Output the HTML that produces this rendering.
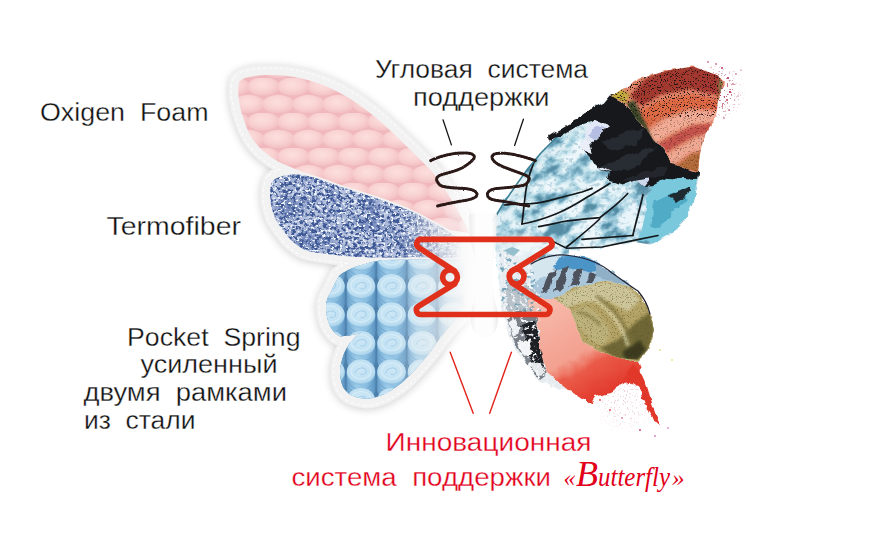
<!DOCTYPE html>
<html lang="ru">
<head>
<meta charset="utf-8">
<title>Butterfly</title>
<style>
html,body{margin:0;padding:0;background:#fff;}
body{width:880px;height:550px;overflow:hidden;font-family:"Liberation Sans",sans-serif;}
svg{display:block;}
text{font-family:"Liberation Sans",sans-serif;}
.t{font-size:25.5px;fill:#111;stroke:#fff;stroke-width:.3px;}
.r{font-size:25.5px;fill:#e2001a;stroke:#fff;stroke-width:.3px;}
.s{font-family:"Liberation Serif",serif;font-style:italic;font-size:31px;fill:#e2001a;}
</style>
</head>
<body>
<svg width="880" height="550" viewBox="0 0 880 550">
<defs>


<filter id="sh" color-interpolation-filters="sRGB" x="-10%" y="-10%" width="120%" height="120%">
  <feGaussianBlur in="SourceAlpha" stdDeviation="4" result="b"/>
  <feOffset in="b" dx="0" dy="1" result="o"/>
  <feComponentTransfer in="o" result="o2"><feFuncA type="linear" slope="0.2"/></feComponentTransfer>
  <feMerge><feMergeNode in="o2"/><feMergeNode in="SourceGraphic"/></feMerge>
</filter>
<radialGradient id="bump" cx="0.45" cy="0.38" r="0.64">
  <stop offset="0" stop-color="#fcdfde"/>
  <stop offset="0.5" stop-color="#f9d3d3"/>
  <stop offset="0.85" stop-color="#f4c4c7"/>
  <stop offset="1" stop-color="#f0b8bc"/>
</radialGradient>
<pattern id="foam" width="30" height="35" patternUnits="userSpaceOnUse" patternTransform="translate(248.5,78)">
  <rect width="30" height="35" fill="#f0b8bc"/>
  <ellipse cx="15" cy="8.7" rx="16" ry="9.4" fill="url(#bump)"/>
  <ellipse cx="0" cy="26.2" rx="16" ry="9.4" fill="url(#bump)"/>
  <ellipse cx="30" cy="26.2" rx="16" ry="9.4" fill="url(#bump)"/>
</pattern>
<filter id="fib" color-interpolation-filters="sRGB" x="0" y="0" width="100%" height="100%">
  <feTurbulence type="fractalNoise" baseFrequency="0.26 0.3" numOctaves="3" seed="7" result="n"/>
  <feColorMatrix in="n" type="matrix" values="0 0 0 0 0.24  0 0 0 0 0.34  0 0 0 0 0.58  0 6 0 0 -2.68" result="c"/>
  <feComposite in="c" in2="SourceGraphic" operator="in"/>
</filter>
<filter id="fibw" color-interpolation-filters="sRGB" x="0" y="0" width="100%" height="100%">
  <feTurbulence type="fractalNoise" baseFrequency="0.35 0.4" numOctaves="2" seed="23" result="n"/>
  <feColorMatrix in="n" type="matrix" values="0 0 0 0 0.95  0 0 0 0 0.97  0 0 0 0 1  0 -7 0 0 3.05" result="c"/>
  <feComposite in="c" in2="SourceGraphic" operator="in"/>
</filter>
<filter id="fib2" color-interpolation-filters="sRGB" x="0" y="0" width="100%" height="100%">
  <feTurbulence type="fractalNoise" baseFrequency="0.05 0.06" numOctaves="2" seed="3" result="n"/>
  <feColorMatrix in="n" type="matrix" values="0 0 0 0 0.25  0 0 0 0 0.36  0 0 0 0 0.64  0 3 0 0 -1.2" result="c"/>
  <feComposite in="c" in2="SourceGraphic" operator="in"/>
</filter>
<linearGradient id="cyl" x1="0" y1="0" x2="1" y2="0">
  <stop offset="0" stop-color="#6fa6d0"/>
  <stop offset="0.35" stop-color="#9ccbe8"/>
  <stop offset="0.7" stop-color="#88bde0"/>
  <stop offset="1" stop-color="#5f97c4"/>
</linearGradient>
<radialGradient id="cap" cx="0.45" cy="0.4" r="0.65">
  <stop offset="0" stop-color="#cde7f6"/>
  <stop offset="0.7" stop-color="#bfe0f2"/>
  <stop offset="1" stop-color="#a9d2ea"/>
</radialGradient>
<pattern id="spr" width="29" height="29" patternUnits="userSpaceOnUse" patternTransform="translate(346.5,266.5)">
  <rect width="29" height="29" fill="#5f9bcb"/>
  <rect x="1" y="-8" width="27" height="16" fill="url(#cyl)"/>
  <rect x="1" y="14" width="27" height="16" fill="url(#cyl)"/>
  <path d="M1,18h27M1,21.5h27M1,25h27M1,-4h27M1,-0.5h27M1,3h27" stroke="#6aa5d3" stroke-width="1" opacity=".7"/>
  <ellipse cx="14.5" cy="14.5" rx="13.6" ry="11.2" fill="#8fc2e6"/>
  <ellipse cx="14.5" cy="13.6" rx="13.4" ry="10.6" fill="url(#cap)"/>
  <ellipse cx="14.5" cy="13.6" rx="9.2" ry="7" fill="none" stroke="#d9effb" stroke-width="1.6" opacity=".9"/>
  <path d="M9,15 C10,10 17,9 19,12 C20,15 16,17 14,15.5" fill="none" stroke="#a5d0ee" stroke-width="1.2"/>
</pattern>
<linearGradient id="fadeR" x1="0" y1="0" x2="1" y2="0">
  <stop offset="0" stop-color="#fff" stop-opacity="0"/>
  <stop offset="0.55" stop-color="#fff" stop-opacity="0.55"/>
  <stop offset="1" stop-color="#fff" stop-opacity="1"/>
</linearGradient>
<path id="pPink" d="M239,82 C243,77 253,75 271,75 C290,75 310,79 330,88 C356,100 378,118 397,137 C412,151 424,163 434,174 C445,188 455,205 464,222 L470,233 L450,230 C436,222 422,214.5 408,208 C392,201 376,196 360,191 C346,187 334,182.5 322,178 C308,173.5 296,170 286,165 C276,161 267,155 260,148 C253,141 248,133 244,120 C239,107 237,92 239,82 Z"/>
<path id="pFib" d="M272.5,181 C276,177.5 284,175 294,174.5 C302,174.5 310,176.5 318.6,179 C332,184 346,188.5 360,193 C376,198 392,203.5 408,210 C420,215 434,223 452,234 L470,246 L470,258 L413,257 C395,258 370,257.5 357,257 C348,256.5 340,255.8 332,254.6 C320,253 310,252 304,249.5 C296,245 290,240 286,234 C281,228 277,222 275,218 C272,210 270,202 270,196 C270,190 270.5,185 272.5,181 Z"/>
<path id="pSpr" d="M385,260 L478,259 L478,300 C468,308 459,316 450.600,325 C444,333 437,342 431,351 C423,361 416,369 408,377 C400,385 392,390 385,393.700 C378,397 372,399 365.500,398.600 C358,398 353,396.500 349,393.700 C344,390 342,386 341,380.600 C340,375 340,369 341,364 C342.500,357 345,350 349,344.600 C353,339 358,334 364,330 C360,333 356,334.500 352,335 C347,336 342.500,336.500 339,336 C334,333 331.500,329 329.500,325 C327,319 326,312 326,305 C326.500,300 328,296 331,292 C333,287 336,281 339,276 C346,270 355,266.500 365.500,264 C372,262 378,260.500 385,260 Z"/>

<linearGradient id="gFadeP" gradientUnits="userSpaceOnUse" x1="438" y1="0" x2="478" y2="0">
  <stop offset="0" stop-color="#fff"/><stop offset="0.5" stop-color="#888"/><stop offset="1" stop-color="#000"/>
</linearGradient>
<linearGradient id="gFadeF" gradientUnits="userSpaceOnUse" x1="400" y1="0" x2="462" y2="0">
  <stop offset="0" stop-color="#fff"/><stop offset="0.5" stop-color="#777"/><stop offset="1" stop-color="#000"/>
</linearGradient>
<linearGradient id="gFadeS" gradientUnits="userSpaceOnUse" x1="392" y1="0" x2="466" y2="0">
  <stop offset="0" stop-color="#fff"/><stop offset="0.45" stop-color="#888"/><stop offset="1" stop-color="#000"/>
</linearGradient>
<mask id="mFadeP" maskUnits="userSpaceOnUse" x="200" y="40" width="320" height="400"><rect x="200" y="40" width="320" height="400" fill="url(#gFadeP)"/></mask>
<mask id="mFadeF" maskUnits="userSpaceOnUse" x="200" y="40" width="320" height="400"><rect x="200" y="40" width="320" height="400" fill="url(#gFadeF)"/></mask>
<mask id="mFadeS" maskUnits="userSpaceOnUse" x="200" y="40" width="320" height="400"><rect x="200" y="40" width="320" height="400" fill="url(#gFadeS)"/></mask>
<clipPath id="cSpr"><use href="#pSpr"/></clipPath>

<filter id="rough" color-interpolation-filters="sRGB" x="-5%" y="-5%" width="110%" height="110%">
  <feTurbulence type="fractalNoise" baseFrequency="0.09" numOctaves="3" seed="11" result="n"/>
  <feDisplacementMap in="SourceGraphic" in2="n" scale="7" xChannelSelector="R" yChannelSelector="G"/>
</filter>
<filter id="wc" color-interpolation-filters="sRGB" x="-5%" y="-5%" width="110%" height="110%">
  <feTurbulence type="fractalNoise" baseFrequency="0.09" numOctaves="3" seed="11" result="n"/>
  <feDisplacementMap in="SourceGraphic" in2="n" scale="7" xChannelSelector="R" yChannelSelector="G" result="d"/>
  <feTurbulence type="fractalNoise" baseFrequency="0.16 0.2" numOctaves="4" seed="5" result="t"/>
  <feColorMatrix in="t" type="matrix" values="1.5 0 0 0 0.12  1.5 0 0 0 0.12  1.5 0 0 0 0.12  0 0 0 0 1" result="g"/>
  <feComposite in="d" in2="g" operator="arithmetic" k1="1.15" k2="0.15" k3="0" k4="0" result="m"/>
  <feComposite in="m" in2="d" operator="in"/>
</filter>
<filter id="coil" color-interpolation-filters="sRGB" x="-10%" y="-10%" width="120%" height="120%">
  <feTurbulence type="fractalNoise" baseFrequency="0.6" numOctaves="2" seed="2" result="n"/>
  <feDisplacementMap in="SourceGraphic" in2="n" scale="1.6" xChannelSelector="R" yChannelSelector="G"/>
</filter>
<linearGradient id="gBody" gradientUnits="userSpaceOnUse" x1="468" y1="0" x2="500" y2="0">
  <stop offset="0" stop-color="#e9e9ea"/>
  <stop offset="0.25" stop-color="#fdfdfd"/>
  <stop offset="0.75" stop-color="#fdfdfd"/>
  <stop offset="1" stop-color="#e4e4e6"/>
</linearGradient>

<clipPath id="cIce"><use href="#ice"/></clipPath>
<clipPath id="cRed"><use href="#redtip"/></clipPath>
<clipPath id="cLeaf"><use href="#leaf"/></clipPath>
<filter id="soft" color-interpolation-filters="sRGB" x="-10%" y="-10%" width="120%" height="120%"><feGaussianBlur stdDeviation="3"/></filter>
<filter id="iceW" color-interpolation-filters="sRGB" x="0" y="0" width="100%" height="100%">
  <feTurbulence type="fractalNoise" baseFrequency="0.07 0.09" numOctaves="4" seed="4" result="n"/>
  <feColorMatrix in="n" type="matrix" values="0 0 0 0 0.96  0 0 0 0 0.98  0 0 0 0 1  5 0 0 0 -2.4" result="c"/>
  <feComposite in="c" in2="SourceGraphic" operator="in"/>
</filter>
<filter id="iceD" color-interpolation-filters="sRGB" x="0" y="0" width="100%" height="100%">
  <feTurbulence type="fractalNoise" baseFrequency="0.2 0.24" numOctaves="3" seed="9" result="n"/>
  <feColorMatrix in="n" type="matrix" values="0 0 0 0 0.36  0 0 0 0 0.58  0 0 0 0 0.68  0 6 0 0 -3.3" result="c"/>
  <feComposite in="c" in2="SourceGraphic" operator="in"/>
</filter>
<filter id="speck" color-interpolation-filters="sRGB" x="0" y="0" width="100%" height="100%">
  <feTurbulence type="fractalNoise" baseFrequency="0.7" numOctaves="2" seed="14" result="n"/>
  <feColorMatrix in="n" type="matrix" values="0 0 0 0 0.15  0 0 0 0 0.08  0 0 0 0 0.07  0 0 9 0 -5.2" result="c"/>
  <feComposite in="c" in2="SourceGraphic" operator="in"/>
</filter>
<filter id="speck2" color-interpolation-filters="sRGB" x="0" y="0" width="100%" height="100%">
  <feTurbulence type="fractalNoise" baseFrequency="0.8" numOctaves="2" seed="31" result="n"/>
  <feColorMatrix in="n" type="matrix" values="0 0 0 0 0.35  0 0 0 0 0.30  0 0 0 0 0.12  0 0 8 0 -4.7" result="c"/>
  <feComposite in="c" in2="SourceGraphic" operator="in"/>
</filter>
<filter id="soft2" color-interpolation-filters="sRGB" x="-10%" y="-10%" width="120%" height="120%"><feGaussianBlur stdDeviation="1.8"/></filter>
<linearGradient id="gSalmon" gradientUnits="userSpaceOnUse" x1="548" y1="305" x2="600" y2="398">
  <stop offset="0" stop-color="#f7b8a9"/>
  <stop offset="0.55" stop-color="#f3a08f"/>
  <stop offset="0.7" stop-color="#ea5a48"/>
  <stop offset="1" stop-color="#e23a2c"/>
</linearGradient>
<linearGradient id="gBodyFade" gradientUnits="userSpaceOnUse" x1="440" y1="0" x2="480" y2="0">
  <stop offset="0" stop-color="#fff" stop-opacity="0"/><stop offset="1" stop-color="#fff" stop-opacity="1"/>
</linearGradient>
<clipPath id="cLow"><use href="#lowbase"/></clipPath>
<filter id="grW" color-interpolation-filters="sRGB" x="0" y="0" width="100%" height="100%">
  <feTurbulence type="fractalNoise" baseFrequency="0.25 0.3" numOctaves="3" seed="17" result="n"/>
  <feColorMatrix in="n" type="matrix" values="0 0 0 0 0.96  0 0 0 0 0.97  0 0 0 0 0.98  7 0 0 0 -3.9" result="c"/>
  <feComposite in="c" in2="SourceGraphic" operator="in"/>
</filter>
<filter id="iceC" color-interpolation-filters="sRGB" x="0" y="0" width="100%" height="100%">
  <feTurbulence type="fractalNoise" baseFrequency="0.045 0.07" numOctaves="5" seed="12" result="n"/>
  <feColorMatrix in="n" type="matrix" values="2.6 0 0 0 -0.7  2.6 0 0 0 -0.7  2.6 0 0 0 -0.7  0 0 0 0 1" result="g"/>
  <feComponentTransfer in="g" result="c">
    <feFuncR type="table" tableValues="0.27 0.40 0.60 0.72 0.86 0.95 0.97"/>
    <feFuncG type="table" tableValues="0.50 0.62 0.78 0.86 0.94 0.98 0.99"/>
    <feFuncB type="table" tableValues="0.60 0.71 0.85 0.91 0.96 0.99 1"/>
  </feComponentTransfer>
  <feComposite in="c" in2="SourceGraphic" operator="in"/>
</filter>
<filter id="pspeck" color-interpolation-filters="sRGB" x="0" y="0" width="100%" height="100%">
  <feTurbulence type="fractalNoise" baseFrequency="0.55" numOctaves="2" seed="41" result="n"/>
  <feColorMatrix in="n" type="matrix" values="0 0 0 0 0.68  0 0 0 0 0.16  0 0 0 0 0.30  0 0 14 0 -8.6" result="c"/>
  <feComposite in="c" in2="SourceGraphic" operator="in"/>
</filter>
<radialGradient id="gTip" gradientUnits="userSpaceOnUse" cx="716" cy="92" r="30">
  <stop offset="0" stop-color="#fff"/><stop offset="0.45" stop-color="#aaa"/><stop offset="1" stop-color="#000"/>
</radialGradient>
<mask id="mTip" maskUnits="userSpaceOnUse" x="680" y="50" width="80" height="100"><rect x="680" y="50" width="80" height="100" fill="url(#gTip)"/></mask>
<radialGradient id="gTail" gradientUnits="userSpaceOnUse" cx="625" cy="402" r="34">
  <stop offset="0" stop-color="#fff"/><stop offset="0.5" stop-color="#999"/><stop offset="1" stop-color="#000"/>
</radialGradient>
<mask id="mTail" maskUnits="userSpaceOnUse" x="560" y="360" width="130" height="90"><rect x="560" y="360" width="130" height="90" fill="url(#gTail)"/></mask>

</defs>
<rect width="880" height="550" fill="#fff"/>

<g filter="url(#sh)">
  <g fill="#f2f2f2" stroke="#f2f2f2" stroke-width="19.500" stroke-linejoin="round">
    <use href="#pPink"/><use href="#pFib"/><use href="#pSpr"/>
  </g>
</g>
<g fill="none" stroke="#ffffff" stroke-width="14.500" stroke-linejoin="round" stroke-dasharray="3 2.200">
  <use href="#pPink"/><use href="#pFib"/><use href="#pSpr"/>
</g>
<g fill="#f2f2f2" stroke="#f2f2f2" stroke-width="13" stroke-linejoin="round">
  <use href="#pPink"/><use href="#pFib"/><use href="#pSpr"/>
</g>
<rect x="440" y="150" width="60" height="260" fill="url(#gBodyFade)"/>
<g mask="url(#mFadeP)">
<use href="#pPink" fill="url(#foam)"/>
</g>
<g mask="url(#mFadeF)">
<use href="#pFib" fill="#b9c5e0"/>
<use href="#pFib" fill="#000" filter="url(#fib2)" opacity=".5"/>
<use href="#pFib" fill="#000" filter="url(#fib)"/>
<use href="#pFib" fill="#000" filter="url(#fibw)"/>
</g>
<g mask="url(#mFadeS)">
<g clip-path="url(#cSpr)">
<rect x="300" y="240" width="200" height="170" fill="#4d80ab"/>
<path d="M285.7,229 v17 a14.3,12 0 0 0 28.6,0 v-17z" fill="url(#cyl)"/>
<path d="M285.7,235 a14.3,12 0 0 0 28.6,0" fill="none" stroke="#5b93c2" stroke-width="1" opacity=".5"/>
<path d="M285.7,239 a14.3,12 0 0 0 28.6,0" fill="none" stroke="#5b93c2" stroke-width="1" opacity=".5"/>
<path d="M285.7,243 a14.3,12 0 0 0 28.6,0" fill="none" stroke="#5b93c2" stroke-width="1" opacity=".5"/>
<path d="M316.2,229 v17 a14.3,12 0 0 0 28.6,0 v-17z" fill="url(#cyl)"/>
<path d="M316.2,235 a14.3,12 0 0 0 28.6,0" fill="none" stroke="#5b93c2" stroke-width="1" opacity=".5"/>
<path d="M316.2,239 a14.3,12 0 0 0 28.6,0" fill="none" stroke="#5b93c2" stroke-width="1" opacity=".5"/>
<path d="M316.2,243 a14.3,12 0 0 0 28.6,0" fill="none" stroke="#5b93c2" stroke-width="1" opacity=".5"/>
<path d="M346.7,229 v17 a14.3,12 0 0 0 28.6,0 v-17z" fill="url(#cyl)"/>
<path d="M346.7,235 a14.3,12 0 0 0 28.6,0" fill="none" stroke="#5b93c2" stroke-width="1" opacity=".5"/>
<path d="M346.7,239 a14.3,12 0 0 0 28.6,0" fill="none" stroke="#5b93c2" stroke-width="1" opacity=".5"/>
<path d="M346.7,243 a14.3,12 0 0 0 28.6,0" fill="none" stroke="#5b93c2" stroke-width="1" opacity=".5"/>
<path d="M377.2,229 v17 a14.3,12 0 0 0 28.6,0 v-17z" fill="url(#cyl)"/>
<path d="M377.2,235 a14.3,12 0 0 0 28.6,0" fill="none" stroke="#5b93c2" stroke-width="1" opacity=".5"/>
<path d="M377.2,239 a14.3,12 0 0 0 28.6,0" fill="none" stroke="#5b93c2" stroke-width="1" opacity=".5"/>
<path d="M377.2,243 a14.3,12 0 0 0 28.6,0" fill="none" stroke="#5b93c2" stroke-width="1" opacity=".5"/>
<path d="M407.7,229 v17 a14.3,12 0 0 0 28.6,0 v-17z" fill="url(#cyl)"/>
<path d="M407.7,235 a14.3,12 0 0 0 28.6,0" fill="none" stroke="#5b93c2" stroke-width="1" opacity=".5"/>
<path d="M407.7,239 a14.3,12 0 0 0 28.6,0" fill="none" stroke="#5b93c2" stroke-width="1" opacity=".5"/>
<path d="M407.7,243 a14.3,12 0 0 0 28.6,0" fill="none" stroke="#5b93c2" stroke-width="1" opacity=".5"/>
<path d="M438.2,229 v17 a14.3,12 0 0 0 28.6,0 v-17z" fill="url(#cyl)"/>
<path d="M438.2,235 a14.3,12 0 0 0 28.6,0" fill="none" stroke="#5b93c2" stroke-width="1" opacity=".5"/>
<path d="M438.2,239 a14.3,12 0 0 0 28.6,0" fill="none" stroke="#5b93c2" stroke-width="1" opacity=".5"/>
<path d="M438.2,243 a14.3,12 0 0 0 28.6,0" fill="none" stroke="#5b93c2" stroke-width="1" opacity=".5"/>
<path d="M468.7,229 v17 a14.3,12 0 0 0 28.6,0 v-17z" fill="url(#cyl)"/>
<path d="M468.7,235 a14.3,12 0 0 0 28.6,0" fill="none" stroke="#5b93c2" stroke-width="1" opacity=".5"/>
<path d="M468.7,239 a14.3,12 0 0 0 28.6,0" fill="none" stroke="#5b93c2" stroke-width="1" opacity=".5"/>
<path d="M468.7,243 a14.3,12 0 0 0 28.6,0" fill="none" stroke="#5b93c2" stroke-width="1" opacity=".5"/>
<ellipse cx="300" cy="230" rx="14.3" ry="12.4" fill="#8fc0e2"/>
<ellipse cx="300" cy="229" rx="14.1" ry="11.9" fill="url(#cap)"/>
<ellipse cx="300" cy="228.5" rx="10" ry="8" fill="none" stroke="#d6ecf8" stroke-width="1.6" opacity=".8"/>
<path d="M294,231 c1,-6 9,-7 11,-3.5 c1,3.5 -3,5.5 -5.5,4" fill="none" stroke="#a9d1ea" stroke-width="1.1"/>
<ellipse cx="330.5" cy="230" rx="14.3" ry="12.4" fill="#8fc0e2"/>
<ellipse cx="330.5" cy="229" rx="14.1" ry="11.9" fill="url(#cap)"/>
<ellipse cx="330.5" cy="228.5" rx="10" ry="8" fill="none" stroke="#d6ecf8" stroke-width="1.6" opacity=".8"/>
<path d="M324.5,231 c1,-6 9,-7 11,-3.5 c1,3.5 -3,5.5 -5.5,4" fill="none" stroke="#a9d1ea" stroke-width="1.1"/>
<ellipse cx="361" cy="230" rx="14.3" ry="12.4" fill="#8fc0e2"/>
<ellipse cx="361" cy="229" rx="14.1" ry="11.9" fill="url(#cap)"/>
<ellipse cx="361" cy="228.5" rx="10" ry="8" fill="none" stroke="#d6ecf8" stroke-width="1.6" opacity=".8"/>
<path d="M355,231 c1,-6 9,-7 11,-3.5 c1,3.5 -3,5.5 -5.5,4" fill="none" stroke="#a9d1ea" stroke-width="1.1"/>
<ellipse cx="391.5" cy="230" rx="14.3" ry="12.4" fill="#8fc0e2"/>
<ellipse cx="391.5" cy="229" rx="14.1" ry="11.9" fill="url(#cap)"/>
<ellipse cx="391.5" cy="228.5" rx="10" ry="8" fill="none" stroke="#d6ecf8" stroke-width="1.6" opacity=".8"/>
<path d="M385.5,231 c1,-6 9,-7 11,-3.5 c1,3.5 -3,5.5 -5.5,4" fill="none" stroke="#a9d1ea" stroke-width="1.1"/>
<ellipse cx="422" cy="230" rx="14.3" ry="12.4" fill="#8fc0e2"/>
<ellipse cx="422" cy="229" rx="14.1" ry="11.9" fill="url(#cap)"/>
<ellipse cx="422" cy="228.5" rx="10" ry="8" fill="none" stroke="#d6ecf8" stroke-width="1.6" opacity=".8"/>
<path d="M416,231 c1,-6 9,-7 11,-3.5 c1,3.5 -3,5.5 -5.5,4" fill="none" stroke="#a9d1ea" stroke-width="1.1"/>
<ellipse cx="452.5" cy="230" rx="14.3" ry="12.4" fill="#8fc0e2"/>
<ellipse cx="452.5" cy="229" rx="14.1" ry="11.9" fill="url(#cap)"/>
<ellipse cx="452.5" cy="228.5" rx="10" ry="8" fill="none" stroke="#d6ecf8" stroke-width="1.6" opacity=".8"/>
<path d="M446.5,231 c1,-6 9,-7 11,-3.5 c1,3.5 -3,5.5 -5.5,4" fill="none" stroke="#a9d1ea" stroke-width="1.1"/>
<ellipse cx="483" cy="230" rx="14.3" ry="12.4" fill="#8fc0e2"/>
<ellipse cx="483" cy="229" rx="14.1" ry="11.9" fill="url(#cap)"/>
<ellipse cx="483" cy="228.5" rx="10" ry="8" fill="none" stroke="#d6ecf8" stroke-width="1.6" opacity=".8"/>
<path d="M477,231 c1,-6 9,-7 11,-3.5 c1,3.5 -3,5.5 -5.5,4" fill="none" stroke="#a9d1ea" stroke-width="1.1"/>
<path d="M285.7,257.5 v17 a14.3,12 0 0 0 28.6,0 v-17z" fill="url(#cyl)"/>
<path d="M285.7,263.5 a14.3,12 0 0 0 28.6,0" fill="none" stroke="#5b93c2" stroke-width="1" opacity=".5"/>
<path d="M285.7,267.5 a14.3,12 0 0 0 28.6,0" fill="none" stroke="#5b93c2" stroke-width="1" opacity=".5"/>
<path d="M285.7,271.5 a14.3,12 0 0 0 28.6,0" fill="none" stroke="#5b93c2" stroke-width="1" opacity=".5"/>
<path d="M316.2,257.5 v17 a14.3,12 0 0 0 28.6,0 v-17z" fill="url(#cyl)"/>
<path d="M316.2,263.5 a14.3,12 0 0 0 28.6,0" fill="none" stroke="#5b93c2" stroke-width="1" opacity=".5"/>
<path d="M316.2,267.5 a14.3,12 0 0 0 28.6,0" fill="none" stroke="#5b93c2" stroke-width="1" opacity=".5"/>
<path d="M316.2,271.5 a14.3,12 0 0 0 28.6,0" fill="none" stroke="#5b93c2" stroke-width="1" opacity=".5"/>
<path d="M346.7,257.5 v17 a14.3,12 0 0 0 28.6,0 v-17z" fill="url(#cyl)"/>
<path d="M346.7,263.5 a14.3,12 0 0 0 28.6,0" fill="none" stroke="#5b93c2" stroke-width="1" opacity=".5"/>
<path d="M346.7,267.5 a14.3,12 0 0 0 28.6,0" fill="none" stroke="#5b93c2" stroke-width="1" opacity=".5"/>
<path d="M346.7,271.5 a14.3,12 0 0 0 28.6,0" fill="none" stroke="#5b93c2" stroke-width="1" opacity=".5"/>
<path d="M377.2,257.5 v17 a14.3,12 0 0 0 28.6,0 v-17z" fill="url(#cyl)"/>
<path d="M377.2,263.5 a14.3,12 0 0 0 28.6,0" fill="none" stroke="#5b93c2" stroke-width="1" opacity=".5"/>
<path d="M377.2,267.5 a14.3,12 0 0 0 28.6,0" fill="none" stroke="#5b93c2" stroke-width="1" opacity=".5"/>
<path d="M377.2,271.5 a14.3,12 0 0 0 28.6,0" fill="none" stroke="#5b93c2" stroke-width="1" opacity=".5"/>
<path d="M407.7,257.5 v17 a14.3,12 0 0 0 28.6,0 v-17z" fill="url(#cyl)"/>
<path d="M407.7,263.5 a14.3,12 0 0 0 28.6,0" fill="none" stroke="#5b93c2" stroke-width="1" opacity=".5"/>
<path d="M407.7,267.5 a14.3,12 0 0 0 28.6,0" fill="none" stroke="#5b93c2" stroke-width="1" opacity=".5"/>
<path d="M407.7,271.5 a14.3,12 0 0 0 28.6,0" fill="none" stroke="#5b93c2" stroke-width="1" opacity=".5"/>
<path d="M438.2,257.5 v17 a14.3,12 0 0 0 28.6,0 v-17z" fill="url(#cyl)"/>
<path d="M438.2,263.5 a14.3,12 0 0 0 28.6,0" fill="none" stroke="#5b93c2" stroke-width="1" opacity=".5"/>
<path d="M438.2,267.5 a14.3,12 0 0 0 28.6,0" fill="none" stroke="#5b93c2" stroke-width="1" opacity=".5"/>
<path d="M438.2,271.5 a14.3,12 0 0 0 28.6,0" fill="none" stroke="#5b93c2" stroke-width="1" opacity=".5"/>
<path d="M468.7,257.5 v17 a14.3,12 0 0 0 28.6,0 v-17z" fill="url(#cyl)"/>
<path d="M468.7,263.5 a14.3,12 0 0 0 28.6,0" fill="none" stroke="#5b93c2" stroke-width="1" opacity=".5"/>
<path d="M468.7,267.5 a14.3,12 0 0 0 28.6,0" fill="none" stroke="#5b93c2" stroke-width="1" opacity=".5"/>
<path d="M468.7,271.5 a14.3,12 0 0 0 28.6,0" fill="none" stroke="#5b93c2" stroke-width="1" opacity=".5"/>
<ellipse cx="300" cy="258.5" rx="14.3" ry="12.4" fill="#8fc0e2"/>
<ellipse cx="300" cy="257.5" rx="14.1" ry="11.9" fill="url(#cap)"/>
<ellipse cx="300" cy="257.0" rx="10" ry="8" fill="none" stroke="#d6ecf8" stroke-width="1.6" opacity=".8"/>
<path d="M294,259.5 c1,-6 9,-7 11,-3.5 c1,3.5 -3,5.5 -5.5,4" fill="none" stroke="#a9d1ea" stroke-width="1.1"/>
<ellipse cx="330.5" cy="258.5" rx="14.3" ry="12.4" fill="#8fc0e2"/>
<ellipse cx="330.5" cy="257.5" rx="14.1" ry="11.9" fill="url(#cap)"/>
<ellipse cx="330.5" cy="257.0" rx="10" ry="8" fill="none" stroke="#d6ecf8" stroke-width="1.6" opacity=".8"/>
<path d="M324.5,259.5 c1,-6 9,-7 11,-3.5 c1,3.5 -3,5.5 -5.5,4" fill="none" stroke="#a9d1ea" stroke-width="1.1"/>
<ellipse cx="361" cy="258.5" rx="14.3" ry="12.4" fill="#8fc0e2"/>
<ellipse cx="361" cy="257.5" rx="14.1" ry="11.9" fill="url(#cap)"/>
<ellipse cx="361" cy="257.0" rx="10" ry="8" fill="none" stroke="#d6ecf8" stroke-width="1.6" opacity=".8"/>
<path d="M355,259.5 c1,-6 9,-7 11,-3.5 c1,3.5 -3,5.5 -5.5,4" fill="none" stroke="#a9d1ea" stroke-width="1.1"/>
<ellipse cx="391.5" cy="258.5" rx="14.3" ry="12.4" fill="#8fc0e2"/>
<ellipse cx="391.5" cy="257.5" rx="14.1" ry="11.9" fill="url(#cap)"/>
<ellipse cx="391.5" cy="257.0" rx="10" ry="8" fill="none" stroke="#d6ecf8" stroke-width="1.6" opacity=".8"/>
<path d="M385.5,259.5 c1,-6 9,-7 11,-3.5 c1,3.5 -3,5.5 -5.5,4" fill="none" stroke="#a9d1ea" stroke-width="1.1"/>
<ellipse cx="422" cy="258.5" rx="14.3" ry="12.4" fill="#8fc0e2"/>
<ellipse cx="422" cy="257.5" rx="14.1" ry="11.9" fill="url(#cap)"/>
<ellipse cx="422" cy="257.0" rx="10" ry="8" fill="none" stroke="#d6ecf8" stroke-width="1.6" opacity=".8"/>
<path d="M416,259.5 c1,-6 9,-7 11,-3.5 c1,3.5 -3,5.5 -5.5,4" fill="none" stroke="#a9d1ea" stroke-width="1.1"/>
<ellipse cx="452.5" cy="258.5" rx="14.3" ry="12.4" fill="#8fc0e2"/>
<ellipse cx="452.5" cy="257.5" rx="14.1" ry="11.9" fill="url(#cap)"/>
<ellipse cx="452.5" cy="257.0" rx="10" ry="8" fill="none" stroke="#d6ecf8" stroke-width="1.6" opacity=".8"/>
<path d="M446.5,259.5 c1,-6 9,-7 11,-3.5 c1,3.5 -3,5.5 -5.5,4" fill="none" stroke="#a9d1ea" stroke-width="1.1"/>
<ellipse cx="483" cy="258.5" rx="14.3" ry="12.4" fill="#8fc0e2"/>
<ellipse cx="483" cy="257.5" rx="14.1" ry="11.9" fill="url(#cap)"/>
<ellipse cx="483" cy="257.0" rx="10" ry="8" fill="none" stroke="#d6ecf8" stroke-width="1.6" opacity=".8"/>
<path d="M477,259.5 c1,-6 9,-7 11,-3.5 c1,3.5 -3,5.5 -5.5,4" fill="none" stroke="#a9d1ea" stroke-width="1.1"/>
<path d="M285.7,286 v17 a14.3,12 0 0 0 28.6,0 v-17z" fill="url(#cyl)"/>
<path d="M285.7,292 a14.3,12 0 0 0 28.6,0" fill="none" stroke="#5b93c2" stroke-width="1" opacity=".5"/>
<path d="M285.7,296 a14.3,12 0 0 0 28.6,0" fill="none" stroke="#5b93c2" stroke-width="1" opacity=".5"/>
<path d="M285.7,300 a14.3,12 0 0 0 28.6,0" fill="none" stroke="#5b93c2" stroke-width="1" opacity=".5"/>
<path d="M316.2,286 v17 a14.3,12 0 0 0 28.6,0 v-17z" fill="url(#cyl)"/>
<path d="M316.2,292 a14.3,12 0 0 0 28.6,0" fill="none" stroke="#5b93c2" stroke-width="1" opacity=".5"/>
<path d="M316.2,296 a14.3,12 0 0 0 28.6,0" fill="none" stroke="#5b93c2" stroke-width="1" opacity=".5"/>
<path d="M316.2,300 a14.3,12 0 0 0 28.6,0" fill="none" stroke="#5b93c2" stroke-width="1" opacity=".5"/>
<path d="M346.7,286 v17 a14.3,12 0 0 0 28.6,0 v-17z" fill="url(#cyl)"/>
<path d="M346.7,292 a14.3,12 0 0 0 28.6,0" fill="none" stroke="#5b93c2" stroke-width="1" opacity=".5"/>
<path d="M346.7,296 a14.3,12 0 0 0 28.6,0" fill="none" stroke="#5b93c2" stroke-width="1" opacity=".5"/>
<path d="M346.7,300 a14.3,12 0 0 0 28.6,0" fill="none" stroke="#5b93c2" stroke-width="1" opacity=".5"/>
<path d="M377.2,286 v17 a14.3,12 0 0 0 28.6,0 v-17z" fill="url(#cyl)"/>
<path d="M377.2,292 a14.3,12 0 0 0 28.6,0" fill="none" stroke="#5b93c2" stroke-width="1" opacity=".5"/>
<path d="M377.2,296 a14.3,12 0 0 0 28.6,0" fill="none" stroke="#5b93c2" stroke-width="1" opacity=".5"/>
<path d="M377.2,300 a14.3,12 0 0 0 28.6,0" fill="none" stroke="#5b93c2" stroke-width="1" opacity=".5"/>
<path d="M407.7,286 v17 a14.3,12 0 0 0 28.6,0 v-17z" fill="url(#cyl)"/>
<path d="M407.7,292 a14.3,12 0 0 0 28.6,0" fill="none" stroke="#5b93c2" stroke-width="1" opacity=".5"/>
<path d="M407.7,296 a14.3,12 0 0 0 28.6,0" fill="none" stroke="#5b93c2" stroke-width="1" opacity=".5"/>
<path d="M407.7,300 a14.3,12 0 0 0 28.6,0" fill="none" stroke="#5b93c2" stroke-width="1" opacity=".5"/>
<path d="M438.2,286 v17 a14.3,12 0 0 0 28.6,0 v-17z" fill="url(#cyl)"/>
<path d="M438.2,292 a14.3,12 0 0 0 28.6,0" fill="none" stroke="#5b93c2" stroke-width="1" opacity=".5"/>
<path d="M438.2,296 a14.3,12 0 0 0 28.6,0" fill="none" stroke="#5b93c2" stroke-width="1" opacity=".5"/>
<path d="M438.2,300 a14.3,12 0 0 0 28.6,0" fill="none" stroke="#5b93c2" stroke-width="1" opacity=".5"/>
<path d="M468.7,286 v17 a14.3,12 0 0 0 28.6,0 v-17z" fill="url(#cyl)"/>
<path d="M468.7,292 a14.3,12 0 0 0 28.6,0" fill="none" stroke="#5b93c2" stroke-width="1" opacity=".5"/>
<path d="M468.7,296 a14.3,12 0 0 0 28.6,0" fill="none" stroke="#5b93c2" stroke-width="1" opacity=".5"/>
<path d="M468.7,300 a14.3,12 0 0 0 28.6,0" fill="none" stroke="#5b93c2" stroke-width="1" opacity=".5"/>
<ellipse cx="300" cy="287" rx="14.3" ry="12.4" fill="#8fc0e2"/>
<ellipse cx="300" cy="286" rx="14.1" ry="11.9" fill="url(#cap)"/>
<ellipse cx="300" cy="285.5" rx="10" ry="8" fill="none" stroke="#d6ecf8" stroke-width="1.6" opacity=".8"/>
<path d="M294,288 c1,-6 9,-7 11,-3.5 c1,3.5 -3,5.5 -5.5,4" fill="none" stroke="#a9d1ea" stroke-width="1.1"/>
<ellipse cx="330.5" cy="287" rx="14.3" ry="12.4" fill="#8fc0e2"/>
<ellipse cx="330.5" cy="286" rx="14.1" ry="11.9" fill="url(#cap)"/>
<ellipse cx="330.5" cy="285.5" rx="10" ry="8" fill="none" stroke="#d6ecf8" stroke-width="1.6" opacity=".8"/>
<path d="M324.5,288 c1,-6 9,-7 11,-3.5 c1,3.5 -3,5.5 -5.5,4" fill="none" stroke="#a9d1ea" stroke-width="1.1"/>
<ellipse cx="361" cy="287" rx="14.3" ry="12.4" fill="#8fc0e2"/>
<ellipse cx="361" cy="286" rx="14.1" ry="11.9" fill="url(#cap)"/>
<ellipse cx="361" cy="285.5" rx="10" ry="8" fill="none" stroke="#d6ecf8" stroke-width="1.6" opacity=".8"/>
<path d="M355,288 c1,-6 9,-7 11,-3.5 c1,3.5 -3,5.5 -5.5,4" fill="none" stroke="#a9d1ea" stroke-width="1.1"/>
<ellipse cx="391.5" cy="287" rx="14.3" ry="12.4" fill="#8fc0e2"/>
<ellipse cx="391.5" cy="286" rx="14.1" ry="11.9" fill="url(#cap)"/>
<ellipse cx="391.5" cy="285.5" rx="10" ry="8" fill="none" stroke="#d6ecf8" stroke-width="1.6" opacity=".8"/>
<path d="M385.5,288 c1,-6 9,-7 11,-3.5 c1,3.5 -3,5.5 -5.5,4" fill="none" stroke="#a9d1ea" stroke-width="1.1"/>
<ellipse cx="422" cy="287" rx="14.3" ry="12.4" fill="#8fc0e2"/>
<ellipse cx="422" cy="286" rx="14.1" ry="11.9" fill="url(#cap)"/>
<ellipse cx="422" cy="285.5" rx="10" ry="8" fill="none" stroke="#d6ecf8" stroke-width="1.6" opacity=".8"/>
<path d="M416,288 c1,-6 9,-7 11,-3.5 c1,3.5 -3,5.5 -5.5,4" fill="none" stroke="#a9d1ea" stroke-width="1.1"/>
<ellipse cx="452.5" cy="287" rx="14.3" ry="12.4" fill="#8fc0e2"/>
<ellipse cx="452.5" cy="286" rx="14.1" ry="11.9" fill="url(#cap)"/>
<ellipse cx="452.5" cy="285.5" rx="10" ry="8" fill="none" stroke="#d6ecf8" stroke-width="1.6" opacity=".8"/>
<path d="M446.5,288 c1,-6 9,-7 11,-3.5 c1,3.5 -3,5.5 -5.5,4" fill="none" stroke="#a9d1ea" stroke-width="1.1"/>
<ellipse cx="483" cy="287" rx="14.3" ry="12.4" fill="#8fc0e2"/>
<ellipse cx="483" cy="286" rx="14.1" ry="11.9" fill="url(#cap)"/>
<ellipse cx="483" cy="285.5" rx="10" ry="8" fill="none" stroke="#d6ecf8" stroke-width="1.6" opacity=".8"/>
<path d="M477,288 c1,-6 9,-7 11,-3.5 c1,3.5 -3,5.5 -5.5,4" fill="none" stroke="#a9d1ea" stroke-width="1.1"/>
<path d="M285.7,314.5 v17 a14.3,12 0 0 0 28.6,0 v-17z" fill="url(#cyl)"/>
<path d="M285.7,320.5 a14.3,12 0 0 0 28.6,0" fill="none" stroke="#5b93c2" stroke-width="1" opacity=".5"/>
<path d="M285.7,324.5 a14.3,12 0 0 0 28.6,0" fill="none" stroke="#5b93c2" stroke-width="1" opacity=".5"/>
<path d="M285.7,328.5 a14.3,12 0 0 0 28.6,0" fill="none" stroke="#5b93c2" stroke-width="1" opacity=".5"/>
<path d="M316.2,314.5 v17 a14.3,12 0 0 0 28.6,0 v-17z" fill="url(#cyl)"/>
<path d="M316.2,320.5 a14.3,12 0 0 0 28.6,0" fill="none" stroke="#5b93c2" stroke-width="1" opacity=".5"/>
<path d="M316.2,324.5 a14.3,12 0 0 0 28.6,0" fill="none" stroke="#5b93c2" stroke-width="1" opacity=".5"/>
<path d="M316.2,328.5 a14.3,12 0 0 0 28.6,0" fill="none" stroke="#5b93c2" stroke-width="1" opacity=".5"/>
<path d="M346.7,314.5 v17 a14.3,12 0 0 0 28.6,0 v-17z" fill="url(#cyl)"/>
<path d="M346.7,320.5 a14.3,12 0 0 0 28.6,0" fill="none" stroke="#5b93c2" stroke-width="1" opacity=".5"/>
<path d="M346.7,324.5 a14.3,12 0 0 0 28.6,0" fill="none" stroke="#5b93c2" stroke-width="1" opacity=".5"/>
<path d="M346.7,328.5 a14.3,12 0 0 0 28.6,0" fill="none" stroke="#5b93c2" stroke-width="1" opacity=".5"/>
<path d="M377.2,314.5 v17 a14.3,12 0 0 0 28.6,0 v-17z" fill="url(#cyl)"/>
<path d="M377.2,320.5 a14.3,12 0 0 0 28.6,0" fill="none" stroke="#5b93c2" stroke-width="1" opacity=".5"/>
<path d="M377.2,324.5 a14.3,12 0 0 0 28.6,0" fill="none" stroke="#5b93c2" stroke-width="1" opacity=".5"/>
<path d="M377.2,328.5 a14.3,12 0 0 0 28.6,0" fill="none" stroke="#5b93c2" stroke-width="1" opacity=".5"/>
<path d="M407.7,314.5 v17 a14.3,12 0 0 0 28.6,0 v-17z" fill="url(#cyl)"/>
<path d="M407.7,320.5 a14.3,12 0 0 0 28.6,0" fill="none" stroke="#5b93c2" stroke-width="1" opacity=".5"/>
<path d="M407.7,324.5 a14.3,12 0 0 0 28.6,0" fill="none" stroke="#5b93c2" stroke-width="1" opacity=".5"/>
<path d="M407.7,328.5 a14.3,12 0 0 0 28.6,0" fill="none" stroke="#5b93c2" stroke-width="1" opacity=".5"/>
<path d="M438.2,314.5 v17 a14.3,12 0 0 0 28.6,0 v-17z" fill="url(#cyl)"/>
<path d="M438.2,320.5 a14.3,12 0 0 0 28.6,0" fill="none" stroke="#5b93c2" stroke-width="1" opacity=".5"/>
<path d="M438.2,324.5 a14.3,12 0 0 0 28.6,0" fill="none" stroke="#5b93c2" stroke-width="1" opacity=".5"/>
<path d="M438.2,328.5 a14.3,12 0 0 0 28.6,0" fill="none" stroke="#5b93c2" stroke-width="1" opacity=".5"/>
<path d="M468.7,314.5 v17 a14.3,12 0 0 0 28.6,0 v-17z" fill="url(#cyl)"/>
<path d="M468.7,320.5 a14.3,12 0 0 0 28.6,0" fill="none" stroke="#5b93c2" stroke-width="1" opacity=".5"/>
<path d="M468.7,324.5 a14.3,12 0 0 0 28.6,0" fill="none" stroke="#5b93c2" stroke-width="1" opacity=".5"/>
<path d="M468.7,328.5 a14.3,12 0 0 0 28.6,0" fill="none" stroke="#5b93c2" stroke-width="1" opacity=".5"/>
<ellipse cx="300" cy="315.5" rx="14.3" ry="12.4" fill="#8fc0e2"/>
<ellipse cx="300" cy="314.5" rx="14.1" ry="11.9" fill="url(#cap)"/>
<ellipse cx="300" cy="314.0" rx="10" ry="8" fill="none" stroke="#d6ecf8" stroke-width="1.6" opacity=".8"/>
<path d="M294,316.5 c1,-6 9,-7 11,-3.5 c1,3.5 -3,5.5 -5.5,4" fill="none" stroke="#a9d1ea" stroke-width="1.1"/>
<ellipse cx="330.5" cy="315.5" rx="14.3" ry="12.4" fill="#8fc0e2"/>
<ellipse cx="330.5" cy="314.5" rx="14.1" ry="11.9" fill="url(#cap)"/>
<ellipse cx="330.5" cy="314.0" rx="10" ry="8" fill="none" stroke="#d6ecf8" stroke-width="1.6" opacity=".8"/>
<path d="M324.5,316.5 c1,-6 9,-7 11,-3.5 c1,3.5 -3,5.5 -5.5,4" fill="none" stroke="#a9d1ea" stroke-width="1.1"/>
<ellipse cx="361" cy="315.5" rx="14.3" ry="12.4" fill="#8fc0e2"/>
<ellipse cx="361" cy="314.5" rx="14.1" ry="11.9" fill="url(#cap)"/>
<ellipse cx="361" cy="314.0" rx="10" ry="8" fill="none" stroke="#d6ecf8" stroke-width="1.6" opacity=".8"/>
<path d="M355,316.5 c1,-6 9,-7 11,-3.5 c1,3.5 -3,5.5 -5.5,4" fill="none" stroke="#a9d1ea" stroke-width="1.1"/>
<ellipse cx="391.5" cy="315.5" rx="14.3" ry="12.4" fill="#8fc0e2"/>
<ellipse cx="391.5" cy="314.5" rx="14.1" ry="11.9" fill="url(#cap)"/>
<ellipse cx="391.5" cy="314.0" rx="10" ry="8" fill="none" stroke="#d6ecf8" stroke-width="1.6" opacity=".8"/>
<path d="M385.5,316.5 c1,-6 9,-7 11,-3.5 c1,3.5 -3,5.5 -5.5,4" fill="none" stroke="#a9d1ea" stroke-width="1.1"/>
<ellipse cx="422" cy="315.5" rx="14.3" ry="12.4" fill="#8fc0e2"/>
<ellipse cx="422" cy="314.5" rx="14.1" ry="11.9" fill="url(#cap)"/>
<ellipse cx="422" cy="314.0" rx="10" ry="8" fill="none" stroke="#d6ecf8" stroke-width="1.6" opacity=".8"/>
<path d="M416,316.5 c1,-6 9,-7 11,-3.5 c1,3.5 -3,5.5 -5.5,4" fill="none" stroke="#a9d1ea" stroke-width="1.1"/>
<ellipse cx="452.5" cy="315.5" rx="14.3" ry="12.4" fill="#8fc0e2"/>
<ellipse cx="452.5" cy="314.5" rx="14.1" ry="11.9" fill="url(#cap)"/>
<ellipse cx="452.5" cy="314.0" rx="10" ry="8" fill="none" stroke="#d6ecf8" stroke-width="1.6" opacity=".8"/>
<path d="M446.5,316.5 c1,-6 9,-7 11,-3.5 c1,3.5 -3,5.5 -5.5,4" fill="none" stroke="#a9d1ea" stroke-width="1.1"/>
<ellipse cx="483" cy="315.5" rx="14.3" ry="12.4" fill="#8fc0e2"/>
<ellipse cx="483" cy="314.5" rx="14.1" ry="11.9" fill="url(#cap)"/>
<ellipse cx="483" cy="314.0" rx="10" ry="8" fill="none" stroke="#d6ecf8" stroke-width="1.6" opacity=".8"/>
<path d="M477,316.5 c1,-6 9,-7 11,-3.5 c1,3.5 -3,5.5 -5.5,4" fill="none" stroke="#a9d1ea" stroke-width="1.1"/>
<path d="M285.7,343 v17 a14.3,12 0 0 0 28.6,0 v-17z" fill="url(#cyl)"/>
<path d="M285.7,349 a14.3,12 0 0 0 28.6,0" fill="none" stroke="#5b93c2" stroke-width="1" opacity=".5"/>
<path d="M285.7,353 a14.3,12 0 0 0 28.6,0" fill="none" stroke="#5b93c2" stroke-width="1" opacity=".5"/>
<path d="M285.7,357 a14.3,12 0 0 0 28.6,0" fill="none" stroke="#5b93c2" stroke-width="1" opacity=".5"/>
<path d="M316.2,343 v17 a14.3,12 0 0 0 28.6,0 v-17z" fill="url(#cyl)"/>
<path d="M316.2,349 a14.3,12 0 0 0 28.6,0" fill="none" stroke="#5b93c2" stroke-width="1" opacity=".5"/>
<path d="M316.2,353 a14.3,12 0 0 0 28.6,0" fill="none" stroke="#5b93c2" stroke-width="1" opacity=".5"/>
<path d="M316.2,357 a14.3,12 0 0 0 28.6,0" fill="none" stroke="#5b93c2" stroke-width="1" opacity=".5"/>
<path d="M346.7,343 v17 a14.3,12 0 0 0 28.6,0 v-17z" fill="url(#cyl)"/>
<path d="M346.7,349 a14.3,12 0 0 0 28.6,0" fill="none" stroke="#5b93c2" stroke-width="1" opacity=".5"/>
<path d="M346.7,353 a14.3,12 0 0 0 28.6,0" fill="none" stroke="#5b93c2" stroke-width="1" opacity=".5"/>
<path d="M346.7,357 a14.3,12 0 0 0 28.6,0" fill="none" stroke="#5b93c2" stroke-width="1" opacity=".5"/>
<path d="M377.2,343 v17 a14.3,12 0 0 0 28.6,0 v-17z" fill="url(#cyl)"/>
<path d="M377.2,349 a14.3,12 0 0 0 28.6,0" fill="none" stroke="#5b93c2" stroke-width="1" opacity=".5"/>
<path d="M377.2,353 a14.3,12 0 0 0 28.6,0" fill="none" stroke="#5b93c2" stroke-width="1" opacity=".5"/>
<path d="M377.2,357 a14.3,12 0 0 0 28.6,0" fill="none" stroke="#5b93c2" stroke-width="1" opacity=".5"/>
<path d="M407.7,343 v17 a14.3,12 0 0 0 28.6,0 v-17z" fill="url(#cyl)"/>
<path d="M407.7,349 a14.3,12 0 0 0 28.6,0" fill="none" stroke="#5b93c2" stroke-width="1" opacity=".5"/>
<path d="M407.7,353 a14.3,12 0 0 0 28.6,0" fill="none" stroke="#5b93c2" stroke-width="1" opacity=".5"/>
<path d="M407.7,357 a14.3,12 0 0 0 28.6,0" fill="none" stroke="#5b93c2" stroke-width="1" opacity=".5"/>
<path d="M438.2,343 v17 a14.3,12 0 0 0 28.6,0 v-17z" fill="url(#cyl)"/>
<path d="M438.2,349 a14.3,12 0 0 0 28.6,0" fill="none" stroke="#5b93c2" stroke-width="1" opacity=".5"/>
<path d="M438.2,353 a14.3,12 0 0 0 28.6,0" fill="none" stroke="#5b93c2" stroke-width="1" opacity=".5"/>
<path d="M438.2,357 a14.3,12 0 0 0 28.6,0" fill="none" stroke="#5b93c2" stroke-width="1" opacity=".5"/>
<path d="M468.7,343 v17 a14.3,12 0 0 0 28.6,0 v-17z" fill="url(#cyl)"/>
<path d="M468.7,349 a14.3,12 0 0 0 28.6,0" fill="none" stroke="#5b93c2" stroke-width="1" opacity=".5"/>
<path d="M468.7,353 a14.3,12 0 0 0 28.6,0" fill="none" stroke="#5b93c2" stroke-width="1" opacity=".5"/>
<path d="M468.7,357 a14.3,12 0 0 0 28.6,0" fill="none" stroke="#5b93c2" stroke-width="1" opacity=".5"/>
<ellipse cx="300" cy="344" rx="14.3" ry="12.4" fill="#8fc0e2"/>
<ellipse cx="300" cy="343" rx="14.1" ry="11.9" fill="url(#cap)"/>
<ellipse cx="300" cy="342.5" rx="10" ry="8" fill="none" stroke="#d6ecf8" stroke-width="1.6" opacity=".8"/>
<path d="M294,345 c1,-6 9,-7 11,-3.5 c1,3.5 -3,5.5 -5.5,4" fill="none" stroke="#a9d1ea" stroke-width="1.1"/>
<ellipse cx="330.5" cy="344" rx="14.3" ry="12.4" fill="#8fc0e2"/>
<ellipse cx="330.5" cy="343" rx="14.1" ry="11.9" fill="url(#cap)"/>
<ellipse cx="330.5" cy="342.5" rx="10" ry="8" fill="none" stroke="#d6ecf8" stroke-width="1.6" opacity=".8"/>
<path d="M324.5,345 c1,-6 9,-7 11,-3.5 c1,3.5 -3,5.5 -5.5,4" fill="none" stroke="#a9d1ea" stroke-width="1.1"/>
<ellipse cx="361" cy="344" rx="14.3" ry="12.4" fill="#8fc0e2"/>
<ellipse cx="361" cy="343" rx="14.1" ry="11.9" fill="url(#cap)"/>
<ellipse cx="361" cy="342.5" rx="10" ry="8" fill="none" stroke="#d6ecf8" stroke-width="1.6" opacity=".8"/>
<path d="M355,345 c1,-6 9,-7 11,-3.5 c1,3.5 -3,5.5 -5.5,4" fill="none" stroke="#a9d1ea" stroke-width="1.1"/>
<ellipse cx="391.5" cy="344" rx="14.3" ry="12.4" fill="#8fc0e2"/>
<ellipse cx="391.5" cy="343" rx="14.1" ry="11.9" fill="url(#cap)"/>
<ellipse cx="391.5" cy="342.5" rx="10" ry="8" fill="none" stroke="#d6ecf8" stroke-width="1.6" opacity=".8"/>
<path d="M385.5,345 c1,-6 9,-7 11,-3.5 c1,3.5 -3,5.5 -5.5,4" fill="none" stroke="#a9d1ea" stroke-width="1.1"/>
<ellipse cx="422" cy="344" rx="14.3" ry="12.4" fill="#8fc0e2"/>
<ellipse cx="422" cy="343" rx="14.1" ry="11.9" fill="url(#cap)"/>
<ellipse cx="422" cy="342.5" rx="10" ry="8" fill="none" stroke="#d6ecf8" stroke-width="1.6" opacity=".8"/>
<path d="M416,345 c1,-6 9,-7 11,-3.5 c1,3.5 -3,5.5 -5.5,4" fill="none" stroke="#a9d1ea" stroke-width="1.1"/>
<ellipse cx="452.5" cy="344" rx="14.3" ry="12.4" fill="#8fc0e2"/>
<ellipse cx="452.5" cy="343" rx="14.1" ry="11.9" fill="url(#cap)"/>
<ellipse cx="452.5" cy="342.5" rx="10" ry="8" fill="none" stroke="#d6ecf8" stroke-width="1.6" opacity=".8"/>
<path d="M446.5,345 c1,-6 9,-7 11,-3.5 c1,3.5 -3,5.5 -5.5,4" fill="none" stroke="#a9d1ea" stroke-width="1.1"/>
<ellipse cx="483" cy="344" rx="14.3" ry="12.4" fill="#8fc0e2"/>
<ellipse cx="483" cy="343" rx="14.1" ry="11.9" fill="url(#cap)"/>
<ellipse cx="483" cy="342.5" rx="10" ry="8" fill="none" stroke="#d6ecf8" stroke-width="1.6" opacity=".8"/>
<path d="M477,345 c1,-6 9,-7 11,-3.5 c1,3.5 -3,5.5 -5.5,4" fill="none" stroke="#a9d1ea" stroke-width="1.1"/>
<path d="M285.7,371.5 v17 a14.3,12 0 0 0 28.6,0 v-17z" fill="url(#cyl)"/>
<path d="M285.7,377.5 a14.3,12 0 0 0 28.6,0" fill="none" stroke="#5b93c2" stroke-width="1" opacity=".5"/>
<path d="M285.7,381.5 a14.3,12 0 0 0 28.6,0" fill="none" stroke="#5b93c2" stroke-width="1" opacity=".5"/>
<path d="M285.7,385.5 a14.3,12 0 0 0 28.6,0" fill="none" stroke="#5b93c2" stroke-width="1" opacity=".5"/>
<path d="M316.2,371.5 v17 a14.3,12 0 0 0 28.6,0 v-17z" fill="url(#cyl)"/>
<path d="M316.2,377.5 a14.3,12 0 0 0 28.6,0" fill="none" stroke="#5b93c2" stroke-width="1" opacity=".5"/>
<path d="M316.2,381.5 a14.3,12 0 0 0 28.6,0" fill="none" stroke="#5b93c2" stroke-width="1" opacity=".5"/>
<path d="M316.2,385.5 a14.3,12 0 0 0 28.6,0" fill="none" stroke="#5b93c2" stroke-width="1" opacity=".5"/>
<path d="M346.7,371.5 v17 a14.3,12 0 0 0 28.6,0 v-17z" fill="url(#cyl)"/>
<path d="M346.7,377.5 a14.3,12 0 0 0 28.6,0" fill="none" stroke="#5b93c2" stroke-width="1" opacity=".5"/>
<path d="M346.7,381.5 a14.3,12 0 0 0 28.6,0" fill="none" stroke="#5b93c2" stroke-width="1" opacity=".5"/>
<path d="M346.7,385.5 a14.3,12 0 0 0 28.6,0" fill="none" stroke="#5b93c2" stroke-width="1" opacity=".5"/>
<path d="M377.2,371.5 v17 a14.3,12 0 0 0 28.6,0 v-17z" fill="url(#cyl)"/>
<path d="M377.2,377.5 a14.3,12 0 0 0 28.6,0" fill="none" stroke="#5b93c2" stroke-width="1" opacity=".5"/>
<path d="M377.2,381.5 a14.3,12 0 0 0 28.6,0" fill="none" stroke="#5b93c2" stroke-width="1" opacity=".5"/>
<path d="M377.2,385.5 a14.3,12 0 0 0 28.6,0" fill="none" stroke="#5b93c2" stroke-width="1" opacity=".5"/>
<path d="M407.7,371.5 v17 a14.3,12 0 0 0 28.6,0 v-17z" fill="url(#cyl)"/>
<path d="M407.7,377.5 a14.3,12 0 0 0 28.6,0" fill="none" stroke="#5b93c2" stroke-width="1" opacity=".5"/>
<path d="M407.7,381.5 a14.3,12 0 0 0 28.6,0" fill="none" stroke="#5b93c2" stroke-width="1" opacity=".5"/>
<path d="M407.7,385.5 a14.3,12 0 0 0 28.6,0" fill="none" stroke="#5b93c2" stroke-width="1" opacity=".5"/>
<path d="M438.2,371.5 v17 a14.3,12 0 0 0 28.6,0 v-17z" fill="url(#cyl)"/>
<path d="M438.2,377.5 a14.3,12 0 0 0 28.6,0" fill="none" stroke="#5b93c2" stroke-width="1" opacity=".5"/>
<path d="M438.2,381.5 a14.3,12 0 0 0 28.6,0" fill="none" stroke="#5b93c2" stroke-width="1" opacity=".5"/>
<path d="M438.2,385.5 a14.3,12 0 0 0 28.6,0" fill="none" stroke="#5b93c2" stroke-width="1" opacity=".5"/>
<path d="M468.7,371.5 v17 a14.3,12 0 0 0 28.6,0 v-17z" fill="url(#cyl)"/>
<path d="M468.7,377.5 a14.3,12 0 0 0 28.6,0" fill="none" stroke="#5b93c2" stroke-width="1" opacity=".5"/>
<path d="M468.7,381.5 a14.3,12 0 0 0 28.6,0" fill="none" stroke="#5b93c2" stroke-width="1" opacity=".5"/>
<path d="M468.7,385.5 a14.3,12 0 0 0 28.6,0" fill="none" stroke="#5b93c2" stroke-width="1" opacity=".5"/>
<ellipse cx="300" cy="372.5" rx="14.3" ry="12.4" fill="#8fc0e2"/>
<ellipse cx="300" cy="371.5" rx="14.1" ry="11.9" fill="url(#cap)"/>
<ellipse cx="300" cy="371.0" rx="10" ry="8" fill="none" stroke="#d6ecf8" stroke-width="1.6" opacity=".8"/>
<path d="M294,373.5 c1,-6 9,-7 11,-3.5 c1,3.5 -3,5.5 -5.5,4" fill="none" stroke="#a9d1ea" stroke-width="1.1"/>
<ellipse cx="330.5" cy="372.5" rx="14.3" ry="12.4" fill="#8fc0e2"/>
<ellipse cx="330.5" cy="371.5" rx="14.1" ry="11.9" fill="url(#cap)"/>
<ellipse cx="330.5" cy="371.0" rx="10" ry="8" fill="none" stroke="#d6ecf8" stroke-width="1.6" opacity=".8"/>
<path d="M324.5,373.5 c1,-6 9,-7 11,-3.5 c1,3.5 -3,5.5 -5.5,4" fill="none" stroke="#a9d1ea" stroke-width="1.1"/>
<ellipse cx="361" cy="372.5" rx="14.3" ry="12.4" fill="#8fc0e2"/>
<ellipse cx="361" cy="371.5" rx="14.1" ry="11.9" fill="url(#cap)"/>
<ellipse cx="361" cy="371.0" rx="10" ry="8" fill="none" stroke="#d6ecf8" stroke-width="1.6" opacity=".8"/>
<path d="M355,373.5 c1,-6 9,-7 11,-3.5 c1,3.5 -3,5.5 -5.5,4" fill="none" stroke="#a9d1ea" stroke-width="1.1"/>
<ellipse cx="391.5" cy="372.5" rx="14.3" ry="12.4" fill="#8fc0e2"/>
<ellipse cx="391.5" cy="371.5" rx="14.1" ry="11.9" fill="url(#cap)"/>
<ellipse cx="391.5" cy="371.0" rx="10" ry="8" fill="none" stroke="#d6ecf8" stroke-width="1.6" opacity=".8"/>
<path d="M385.5,373.5 c1,-6 9,-7 11,-3.5 c1,3.5 -3,5.5 -5.5,4" fill="none" stroke="#a9d1ea" stroke-width="1.1"/>
<ellipse cx="422" cy="372.5" rx="14.3" ry="12.4" fill="#8fc0e2"/>
<ellipse cx="422" cy="371.5" rx="14.1" ry="11.9" fill="url(#cap)"/>
<ellipse cx="422" cy="371.0" rx="10" ry="8" fill="none" stroke="#d6ecf8" stroke-width="1.6" opacity=".8"/>
<path d="M416,373.5 c1,-6 9,-7 11,-3.5 c1,3.5 -3,5.5 -5.5,4" fill="none" stroke="#a9d1ea" stroke-width="1.1"/>
<ellipse cx="452.5" cy="372.5" rx="14.3" ry="12.4" fill="#8fc0e2"/>
<ellipse cx="452.5" cy="371.5" rx="14.1" ry="11.9" fill="url(#cap)"/>
<ellipse cx="452.5" cy="371.0" rx="10" ry="8" fill="none" stroke="#d6ecf8" stroke-width="1.6" opacity=".8"/>
<path d="M446.5,373.5 c1,-6 9,-7 11,-3.5 c1,3.5 -3,5.5 -5.5,4" fill="none" stroke="#a9d1ea" stroke-width="1.1"/>
<ellipse cx="483" cy="372.5" rx="14.3" ry="12.4" fill="#8fc0e2"/>
<ellipse cx="483" cy="371.5" rx="14.1" ry="11.9" fill="url(#cap)"/>
<ellipse cx="483" cy="371.0" rx="10" ry="8" fill="none" stroke="#d6ecf8" stroke-width="1.6" opacity=".8"/>
<path d="M477,373.5 c1,-6 9,-7 11,-3.5 c1,3.5 -3,5.5 -5.5,4" fill="none" stroke="#a9d1ea" stroke-width="1.1"/>
<path d="M285.7,400 v17 a14.3,12 0 0 0 28.6,0 v-17z" fill="url(#cyl)"/>
<path d="M285.7,406 a14.3,12 0 0 0 28.6,0" fill="none" stroke="#5b93c2" stroke-width="1" opacity=".5"/>
<path d="M285.7,410 a14.3,12 0 0 0 28.6,0" fill="none" stroke="#5b93c2" stroke-width="1" opacity=".5"/>
<path d="M285.7,414 a14.3,12 0 0 0 28.6,0" fill="none" stroke="#5b93c2" stroke-width="1" opacity=".5"/>
<path d="M316.2,400 v17 a14.3,12 0 0 0 28.6,0 v-17z" fill="url(#cyl)"/>
<path d="M316.2,406 a14.3,12 0 0 0 28.6,0" fill="none" stroke="#5b93c2" stroke-width="1" opacity=".5"/>
<path d="M316.2,410 a14.3,12 0 0 0 28.6,0" fill="none" stroke="#5b93c2" stroke-width="1" opacity=".5"/>
<path d="M316.2,414 a14.3,12 0 0 0 28.6,0" fill="none" stroke="#5b93c2" stroke-width="1" opacity=".5"/>
<path d="M346.7,400 v17 a14.3,12 0 0 0 28.6,0 v-17z" fill="url(#cyl)"/>
<path d="M346.7,406 a14.3,12 0 0 0 28.6,0" fill="none" stroke="#5b93c2" stroke-width="1" opacity=".5"/>
<path d="M346.7,410 a14.3,12 0 0 0 28.6,0" fill="none" stroke="#5b93c2" stroke-width="1" opacity=".5"/>
<path d="M346.7,414 a14.3,12 0 0 0 28.6,0" fill="none" stroke="#5b93c2" stroke-width="1" opacity=".5"/>
<path d="M377.2,400 v17 a14.3,12 0 0 0 28.6,0 v-17z" fill="url(#cyl)"/>
<path d="M377.2,406 a14.3,12 0 0 0 28.6,0" fill="none" stroke="#5b93c2" stroke-width="1" opacity=".5"/>
<path d="M377.2,410 a14.3,12 0 0 0 28.6,0" fill="none" stroke="#5b93c2" stroke-width="1" opacity=".5"/>
<path d="M377.2,414 a14.3,12 0 0 0 28.6,0" fill="none" stroke="#5b93c2" stroke-width="1" opacity=".5"/>
<path d="M407.7,400 v17 a14.3,12 0 0 0 28.6,0 v-17z" fill="url(#cyl)"/>
<path d="M407.7,406 a14.3,12 0 0 0 28.6,0" fill="none" stroke="#5b93c2" stroke-width="1" opacity=".5"/>
<path d="M407.7,410 a14.3,12 0 0 0 28.6,0" fill="none" stroke="#5b93c2" stroke-width="1" opacity=".5"/>
<path d="M407.7,414 a14.3,12 0 0 0 28.6,0" fill="none" stroke="#5b93c2" stroke-width="1" opacity=".5"/>
<path d="M438.2,400 v17 a14.3,12 0 0 0 28.6,0 v-17z" fill="url(#cyl)"/>
<path d="M438.2,406 a14.3,12 0 0 0 28.6,0" fill="none" stroke="#5b93c2" stroke-width="1" opacity=".5"/>
<path d="M438.2,410 a14.3,12 0 0 0 28.6,0" fill="none" stroke="#5b93c2" stroke-width="1" opacity=".5"/>
<path d="M438.2,414 a14.3,12 0 0 0 28.6,0" fill="none" stroke="#5b93c2" stroke-width="1" opacity=".5"/>
<path d="M468.7,400 v17 a14.3,12 0 0 0 28.6,0 v-17z" fill="url(#cyl)"/>
<path d="M468.7,406 a14.3,12 0 0 0 28.6,0" fill="none" stroke="#5b93c2" stroke-width="1" opacity=".5"/>
<path d="M468.7,410 a14.3,12 0 0 0 28.6,0" fill="none" stroke="#5b93c2" stroke-width="1" opacity=".5"/>
<path d="M468.7,414 a14.3,12 0 0 0 28.6,0" fill="none" stroke="#5b93c2" stroke-width="1" opacity=".5"/>
<ellipse cx="300" cy="401" rx="14.3" ry="12.4" fill="#8fc0e2"/>
<ellipse cx="300" cy="400" rx="14.1" ry="11.9" fill="url(#cap)"/>
<ellipse cx="300" cy="399.5" rx="10" ry="8" fill="none" stroke="#d6ecf8" stroke-width="1.6" opacity=".8"/>
<path d="M294,402 c1,-6 9,-7 11,-3.5 c1,3.5 -3,5.5 -5.5,4" fill="none" stroke="#a9d1ea" stroke-width="1.1"/>
<ellipse cx="330.5" cy="401" rx="14.3" ry="12.4" fill="#8fc0e2"/>
<ellipse cx="330.5" cy="400" rx="14.1" ry="11.9" fill="url(#cap)"/>
<ellipse cx="330.5" cy="399.5" rx="10" ry="8" fill="none" stroke="#d6ecf8" stroke-width="1.6" opacity=".8"/>
<path d="M324.5,402 c1,-6 9,-7 11,-3.5 c1,3.5 -3,5.5 -5.5,4" fill="none" stroke="#a9d1ea" stroke-width="1.1"/>
<ellipse cx="361" cy="401" rx="14.3" ry="12.4" fill="#8fc0e2"/>
<ellipse cx="361" cy="400" rx="14.1" ry="11.9" fill="url(#cap)"/>
<ellipse cx="361" cy="399.5" rx="10" ry="8" fill="none" stroke="#d6ecf8" stroke-width="1.6" opacity=".8"/>
<path d="M355,402 c1,-6 9,-7 11,-3.5 c1,3.5 -3,5.5 -5.5,4" fill="none" stroke="#a9d1ea" stroke-width="1.1"/>
<ellipse cx="391.5" cy="401" rx="14.3" ry="12.4" fill="#8fc0e2"/>
<ellipse cx="391.5" cy="400" rx="14.1" ry="11.9" fill="url(#cap)"/>
<ellipse cx="391.5" cy="399.5" rx="10" ry="8" fill="none" stroke="#d6ecf8" stroke-width="1.6" opacity=".8"/>
<path d="M385.5,402 c1,-6 9,-7 11,-3.5 c1,3.5 -3,5.5 -5.5,4" fill="none" stroke="#a9d1ea" stroke-width="1.1"/>
<ellipse cx="422" cy="401" rx="14.3" ry="12.4" fill="#8fc0e2"/>
<ellipse cx="422" cy="400" rx="14.1" ry="11.9" fill="url(#cap)"/>
<ellipse cx="422" cy="399.5" rx="10" ry="8" fill="none" stroke="#d6ecf8" stroke-width="1.6" opacity=".8"/>
<path d="M416,402 c1,-6 9,-7 11,-3.5 c1,3.5 -3,5.5 -5.5,4" fill="none" stroke="#a9d1ea" stroke-width="1.1"/>
<ellipse cx="452.5" cy="401" rx="14.3" ry="12.4" fill="#8fc0e2"/>
<ellipse cx="452.5" cy="400" rx="14.1" ry="11.9" fill="url(#cap)"/>
<ellipse cx="452.5" cy="399.5" rx="10" ry="8" fill="none" stroke="#d6ecf8" stroke-width="1.6" opacity=".8"/>
<path d="M446.5,402 c1,-6 9,-7 11,-3.5 c1,3.5 -3,5.5 -5.5,4" fill="none" stroke="#a9d1ea" stroke-width="1.1"/>
<ellipse cx="483" cy="401" rx="14.3" ry="12.4" fill="#8fc0e2"/>
<ellipse cx="483" cy="400" rx="14.1" ry="11.9" fill="url(#cap)"/>
<ellipse cx="483" cy="399.5" rx="10" ry="8" fill="none" stroke="#d6ecf8" stroke-width="1.6" opacity=".8"/>
<path d="M477,402 c1,-6 9,-7 11,-3.5 c1,3.5 -3,5.5 -5.5,4" fill="none" stroke="#a9d1ea" stroke-width="1.1"/>
</g>
</g>

<g id="rw">
 <g filter="url(#rough)">
  <!-- ice blue upper wing base -->
  <path id="ice" d="M492.5,222 L502.7,204 L515.5,186 L528,168.4 L541,153 L556,137.8 L571.5,125 L587,113.7 L612,95 L650,130 L699,175 L692.2,203.7 L683.3,221.5 L668,236.8 L650,244.4 L632.8,241.5 L602,247 L569,249.5 L569,256 L545,257 L531,263 L520,280 L500,290 L497,262 Z" fill="#bcdfeb"/>
  <!-- darker teal along leading edge -->
  <path d="M492.5,222 L502.7,204 L515.5,186 L528,168.4 L541,153 L556,137.8 L571.5,125 L587,113.7 L596,125 L575,140 L556,156 L540,174 L524,196 L508,220 L500,238 Z" fill="#79b2c6"/>
  <path d="M600,200 L640,192 L646,215 L640,238 L602,246 L590,225 Z" fill="#a3d2e2"/>
  <path d="M500,236 L530,232 L552,244 L531,262 L515,282 L500,288 Z" fill="#eef6f9"/>
 </g>
 <!-- texture on ice -->
 <g clip-path="url(#cIce)">
  <g transform="rotate(-32 590 190)"><rect x="440" y="40" width="320" height="320" fill="#000" filter="url(#iceC)" opacity=".85"/></g>
  <rect x="485" y="90" width="225" height="205" fill="#000" filter="url(#iceD)" opacity=".35"/>
 </g>
 <g clip-path="url(#cIce)"><path d="M496,238 L526,234 L548,246 L530,262 L514,282 L498,288 Z" fill="#f4f9fb" opacity=".8" filter="url(#soft)"/>
  <path d="M500,252 L512,247 L520,250 L514,256 L518,260 L506,258 Z" fill="#7fb1c2" opacity=".8"/></g>
 <g filter="url(#rough)">
  <!-- teal patch -->
  <path d="M650,186 L668,177 L698,178 L692.2,203.700 L683.3,221.500 L668,236.800 L650,244.400 L640,240 L645,215 Z" fill="#79c8dc"/>
  <path d="M655,200 L680,190 L688,200 L672,212 L660,228 L650,226 Z" fill="#4fabc6"/>
  <path d="M668,196 L690,186 L692,192 L676,204 Z" fill="#1f2a30"/>
  <!-- black band with lobes -->
  <path d="M553.6,134.5 L571.5,125 L587,113.700 L604.5,105.5 L611,96 L627,104 L636,119 L647,130 L653.5,141 L664.4,147.600 L671,163 L682,167.300 L699,172 L698,180 L668,178 L653,186 L644.5,187 L637,180 L622.700,185.500 L608,180 L610,172.700 L597,169 L592,160 L583,149 L597,136 L610,127 L593.600,120 L583,123.600 L561,136 Z" fill="#16181c"/>
  <path d="M551,138 L571.5,125.500 L587,114.500 L604.5,106 L612,97" fill="none" stroke="#16181c" stroke-width="5.500" stroke-linecap="round"/>
  <path d="M593.600,120 L610,127 L598,136 L590,143 L583,139 L588,128 Z" fill="#e3e8f6"/>
  <path d="M596,127 L606,129 L594,139 L588,136 Z" fill="#b4bde2"/>
  <path d="M583,139 L590,143 L593,153 L585,151 L579,145 Z" fill="#e9eef8"/>
  <path d="M597,169 L612,165.500 L622.700,162 L612,172 Z" fill="#dfe6f4"/>
  <path d="M637,180 L646,174 L650,180 L644.5,187 Z" fill="#cfd9ee"/>
  <path d="M645,128 L620,134 L600,142 L606,150 L634,146 Z" fill="#262a31"/>
  <path d="M655,146 L626,156 L600,166 L612,172 L640,166 Z" fill="#282c33"/>
  <path d="M668,166 L640,172 L622,182 L640,180 L664,176 Z" fill="#23272d"/>
 </g>
 <!-- red tip -->
 <g filter="url(#rough)">
  <path id="redtip" d="M611,96 L642,78 L667,70.4 L693,66.5 L718,75.5 L723,83 L718,101 L715.7,116 L705.5,134 L700,152 L698,172 L682,167.300 L671,163 L664.4,147.600 L653.5,141 L647,130 L636,119 L627,104 Z" fill="#e2866a"/>
 </g>
 <g clip-path="url(#cRed)">
  <g filter="url(#soft2)">
   <path d="M630,96 L646,78 L667,69 L693,64 L720,72 L727,83 L722,96 L690,89 L660,95 L642,106 Z" fill="#a3382e"/>
   <path d="M636,113 L660,100.5 L690,94.5 L721,100 L718,110 L690,108 L662,118 L645,129 Z" fill="#de6a44"/>
   <path d="M648,132 L664,120 L690,110 L719,111 L715,122 L692,124 L670,134 L656,143 Z" fill="#f2ab94"/>
   <path d="M658,145 L672,136 L692,126 L715,123 L711,132 L694,136 L676,146 L664,153 Z" fill="#c5534b"/>
   <path d="M666,155 L678,148 L696,138 L710,133 L704,150 L690,152 L678,162 L670,165 Z" fill="#efa892"/>
   <path d="M672,167 L680,163 L692,154 L703,151 L700,176 L684,172 Z" fill="#b56c3b"/>
   <path d="M606,100 L618,88 L630,94 L624,106 Z" fill="#c2ab3c"/>
   <path d="M622,106 L634,100 L646,124 L652,140 L660,150 L652,150 L640,130 Z" fill="#3c4a2a"/>
   <path d="M718,80 L730,78 L726,98 L719,102 Z" fill="#7d8c4a" opacity=".8"/>
  </g>
  <rect x="600" y="55" width="135" height="62" fill="#000" filter="url(#speck)"/>
  <rect x="600" y="117" width="135" height="65" fill="#000" filter="url(#speck)" opacity=".35"/>
 </g>
 <!-- lower wing -->
 <g filter="url(#rough)">
  <path id="lowbase" d="M498.7,250 L531,263 L542,298 L540,321.600 L540,350 L548,374 L568,390 L556,388 L540,382 L528,366 L516,350 L507.500,330 L501.600,312.800 Z" fill="#e6ecf0"/>
  <path d="M503,288 L522,280 L536,292 L538,310 L520,316 L506,310 Z" fill="#b9c2c9"/>
  <path d="M528,300 L541,298 L540,330 L532,326 Z" fill="#f3c0b4"/>
  <path d="M506,318 L524,310 L538,318 L540,350 L548,374 L540,380 L526,362 L514,342 Z" fill="#7a8088"/>
  <path d="M521,326 L536,320 L540,340 L544,366 L536,374 L527,352 Z" fill="#1c1f23"/>
  <path d="M508,322 L517,318 L520,332 L513,336 Z" fill="#eef1f3"/>
  <path d="M517,342 L528,340 L532,353 L523,355 Z" fill="#f2f4f5"/>
  <path d="M529,363 L540,361 L546,374 L537,375 Z" fill="#e4e7ea"/>
  <!-- blue striped -->
  <path id="bluestr" d="M531,263 L545,257 L569,255.500 L590,258 L612.400,273 L638,291 L632,288 L608,280 L580,286 L554,298 L542,298 L530,285 Z" fill="#a9c6da"/>
  <path d="M550,259 L569,255.500 L588,258 L600,265 L592,273 L575,268 L556,271 Z" fill="#4a94c8"/>
  <path d="M596,264 L612.400,273 L630,286 L610,280 L596,276 Z" fill="#8fb0c6"/>
  <path d="M531,263 L545,257 L560,257 L552,270 L538,282 L530,285 Z" fill="#d5e6ef"/>
  <path d="M548,272 l8,-2 l-7,20 l-8,2z M562,268 l8,-1 l-8,22 l-8,2z M577,268 l7,1 l-7,16 l-8,2z M592,272 l6,2 l-5,7 l-7,0z" fill="#4d525d"/>
  <!-- salmon -->
  <path id="salmon" d="M541,298 L554,298 L570,310 L576,326 L584,342 L600,352 L620,358 L638,360 L641,368 L640,378 L624,384 L610,392 L596,396 L590,404 L580,396 L568,390 L548,374 L540,350 L540,306 Z" fill="url(#gSalmon)"/>
  <!-- leaf -->
  <path id="leaf" d="M554,298 L580,286 L608,280 L632,288 L648,306 L654,330 L648,350 L638,360 L620,358 L600,352 L584,342 L576,326 L570,310 Z" fill="#b4a366"/>
  <!-- red tail -->
  <path d="M632,364 C640,368 645,380 649,394 C653,408 657,418 661,427 C651,420 645,406 640,392 C636,384 630,380 624,380 Z" fill="#e2382a"/>
 </g>
 <g clip-path="url(#cLow)">
  <rect x="495" y="245" width="60" height="70" fill="#000" filter="url(#iceD)" opacity=".8"/>
  <rect x="495" y="245" width="60" height="150" fill="#000" filter="url(#grW)"/>
 </g>
 <g clip-path="url(#cLeaf)">
  <g filter="url(#soft2)">
   <path d="M556,298 L580,287 L608,281 L630,288 L640,300 L628,312 L606,300 L584,302 L566,308 Z" fill="#cdc59a"/>
   <path d="M570,312 L586,306 L600,316 L610,332 L604,346 L590,340 L578,326 Z" fill="#bdb27c"/>
   <path d="M600,348 L618,340 L636,322 L650,312 L655,332 L648,350 L638,360 L618,360 Z" fill="#6f6836"/>
   <path d="M622,352 L640,340 L646,350 L638,360 L626,360 Z" fill="#3b3a1e"/>
   <path d="M596,296 C612,306 626,322 632,346" fill="none" stroke="#7d7440" stroke-width="2.5"/>
   <path d="M593,299 C609,309 622,324 628,346" fill="none" stroke="#ded7ae" stroke-width="2.5"/>
   <path d="M578,312 C588,314 596,320 600,326" fill="none" stroke="#8a8148" stroke-width="2.5"/>
  </g>
  <rect x="550" y="275" width="110" height="95" fill="#000" filter="url(#speck2)" opacity=".45"/>
 </g>
</g>
<g id="veins" fill="none" stroke="#14171a" stroke-width="1.7" stroke-linecap="round">
  <path d="M534.7,160.4 C530,172 527,182 525.8,191 C524,205 523,215 522,224"/>
  <path d="M504,205 C515,204 524,204 531,203.7 C540,203 548,201 556.4,198.6 C566,196 575,194 582,192 L592,188.4"/>
  <path d="M522,224 C535,222 546,218 556.4,213.8 C568,209 578,203 587,197.3 C596,192 603,188 610,183.3"/>
  <path d="M538.6,226.6 C548,225 556,223 564,221.5 C577,220 588,218.5 599.7,217.7 C610,210 620,202 627.7,193.5"/>
  <path d="M566.6,247 C578,238 590,228 599.7,219"/>
  <path d="M632.8,235.5 C636,222 640,208 643,194.7"/>
  <path d="M553.8,241.9 L566.6,248.2 L602,247 L632.8,240.6 L658,235.5" stroke-width="1.6"/>
  <path d="M581.9,239.3 L632.8,235.5"/>
  <path d="M493,221 L503,204 L515.5,186 L528,168.4 L541,153 L556,137.8" stroke="#3c7f96" stroke-width="1.6"/>
  <path d="M531,264 C545,255 560,254 569,255.5 C590,258 604,266 612,273 C625,282 633,288 638,291 C644,298 648,306 650,314" stroke-width="1.2" stroke="#223"/>
</g>
<g mask="url(#mTip)"><rect x="680" y="50" width="80" height="100" fill="#000" filter="url(#pspeck)"/></g>
<g mask="url(#mTail)"><rect x="560" y="360" width="130" height="90" fill="#000" filter="url(#pspeck)" opacity=".25"/></g>
<g id="specks" fill="#b5254a">
  <circle cx="728" cy="78" r="1"/><circle cx="733" cy="84" r=".8"/><circle cx="730" cy="92" r="1.1"/><circle cx="736" cy="74" r=".7"/>
  <circle cx="727" cy="100" r=".9"/><circle cx="722" cy="68" r=".9"/><circle cx="716" cy="64" r=".8"/><circle cx="741" cy="70" r=".6"/>
  <circle cx="729" cy="110" r=".8"/><circle cx="724" cy="118" r=".7"/><circle cx="708" cy="62" r=".8"/><circle cx="738" cy="96" r=".6"/>
  <circle cx="610" cy="410" r=".9" fill="#d44"/><circle cx="622" cy="418" r=".8" fill="#c36"/><circle cx="640" cy="430" r=".9" fill="#c36"/><circle cx="655" cy="436" r=".8" fill="#b38"/>
  <circle cx="668" cy="428" r=".7" fill="#b38"/><circle cx="600" cy="400" r="1" fill="#e55"/><circle cx="660" cy="350" r=".8" fill="#cc3"/><circle cx="672" cy="360" r=".7" fill="#cc3"/>
</g>


<path d="M469,214 C478,212 488,212 497,214 L496,240 C494,250 493,258 493,266 L493,290 C494,300 497,306 498,314 L498,322 C497,332 491,338 484.500,338 C478,338 472,332 471,322 L471,314 C472,306 475,300 475,290 L475,266 C475,258 473,250 470,240 Z" fill="url(#gBody)" opacity=".95"/>


<g fill="none" stroke="#e0301b" stroke-width="5.7" stroke-linecap="round" stroke-linejoin="round">
  <path d="M454.500,271 L418.900,247.700 A4.500,4.500 0 0 1 421.250,239.400 L547.500,239.400 A4.500,4.500 0 0 1 549.900,247.700 L512.500,270.900"/>
  <path d="M454.500,284 L418.500,306.200 A4.500,4.500 0 0 0 420.850,314.500 L545.400,314.500 A4.500,4.500 0 0 0 547.800,306.200 L512.500,283.200"/>
  <circle cx="450" cy="277.300" r="7.400"/>
  <circle cx="516.600" cy="276.600" r="7.400"/>
</g>
<g stroke="#e2231a" stroke-width="1.400" stroke-linecap="round">
  <line x1="450.200" y1="352.200" x2="473.200" y2="413.300"/>
  <line x1="511.400" y1="352.200" x2="489.700" y2="413.300"/>
</g>


<g stroke="#151515" stroke-width="1.3" stroke-linecap="round">
  <line x1="443" y1="119.800" x2="451.400" y2="144.900"/>
  <line x1="523.400" y1="119.200" x2="514.600" y2="145.500"/>
</g>
<g fill="none" stroke="#2a1916" stroke-linecap="round" stroke-linejoin="round" filter="url(#coil)">
  <path d="M430.700,160.600 C438,157 446,155 453.600,153.600 C458,153 462,152.800 466.700,153 C474,153.500 476,156.500 473,159.500 C470,163 466,165.500 462.300,167.800 C456,171 449,172.500 442.700,174.300 C437,176 435.500,178.500 437.300,181.500 C438.500,184 440,185.500 442.700,186.300 C450,188 457,188 464.500,188.500 C471,189 476,190.500 477,194 C477.500,197.500 471,199.500 464.500,200.500 C455,202 446,204 437.300,206" stroke-width="1.9"/>
  <path d="M430.700,160.600 C438,157 446,155 453.600,153.600 C458,153 462,152.800 466.700,153 C474,153.500 476,156.500 473,159.500 C470,163 466,165.500 462.300,167.800 C456,171 449,172.500 442.700,174.300 C437,176 435.500,178.500 437.300,181.500 C438.500,184 440,185.500 442.700,186.300 C450,188 457,188 464.500,188.500 C471,189 476,190.500 477,194 C477.500,197.500 471,199.500 464.500,200.500 C455,202 446,204 437.300,206" stroke-width="3" stroke-dasharray="1.1 1.7"/>
  <path d="M535.400,160.600 C528,158 521,156 514.600,154.700 C509,153.600 504,153 499.400,153.200 C493,153.500 490.500,156 492.800,159.500 C495,163 499,165 503.700,167 C510,169.500 517,172 523.400,174.300 C528,176 530.500,178 528.800,180.500 C527.500,183 526,184.500 523.400,185.200 C515,187 506,187.800 497.200,188.500 C491,189 487,191.500 487.400,195 C488,198.500 492,199.800 497.200,200.500 C508,202 518,204 528.800,206" stroke-width="1.9"/>
  <path d="M535.400,160.600 C528,158 521,156 514.600,154.700 C509,153.600 504,153 499.400,153.200 C493,153.500 490.500,156 492.800,159.500 C495,163 499,165 503.700,167 C510,169.500 517,172 523.400,174.300 C528,176 530.500,178 528.800,180.500 C527.500,183 526,184.500 523.400,185.200 C515,187 506,187.800 497.200,188.500 C491,189 487,191.500 487.400,195 C488,198.500 492,199.800 497.200,200.500 C508,202 518,204 528.800,206" stroke-width="3" stroke-dasharray="1.1 1.7"/>
</g>


<g id="txt">
<text class="t" x="40" y="120.7" textLength="168.5" lengthAdjust="spacingAndGlyphs">Oxigen&#160;&#160;Foam</text>
<text class="t" x="106.5" y="235.2" textLength="134.5" lengthAdjust="spacingAndGlyphs">Termofiber</text>
<text class="t" x="127" y="345.5" textLength="173.5" lengthAdjust="spacingAndGlyphs">Pocket&#160;&#160;Spring</text>
<text class="t" x="140.5" y="373.3" textLength="137" lengthAdjust="spacingAndGlyphs">усиленный</text>
<text class="t" x="83.5" y="401.4" textLength="203.5" lengthAdjust="spacingAndGlyphs">двумя&#160;&#160;рамками</text>
<text class="t" x="84" y="429.2" textLength="111.5" lengthAdjust="spacingAndGlyphs">из&#160;&#160;стали</text>
<text class="t" x="375" y="78.2" textLength="213" lengthAdjust="spacingAndGlyphs">Угловая&#160;&#160;система</text>
<text class="t" x="413" y="106.3" textLength="136.5" lengthAdjust="spacingAndGlyphs">поддержки</text>
<text class="r" x="385.5" y="451.3" textLength="206" lengthAdjust="spacingAndGlyphs">Инновационная</text>
<text class="r" x="291.5" y="485.5" textLength="259.5" lengthAdjust="spacingAndGlyphs">система&#160;&#160;поддержки</text>
<text class="s" x="563.5" y="485.5" style="font-size:25px" textLength="12" lengthAdjust="spacingAndGlyphs">«</text>
<text class="s" x="576" y="485.5" style="font-size:36px" textLength="22" lengthAdjust="spacingAndGlyphs">B</text>
<text class="s" x="598" y="485.5" style="font-size:27px" textLength="72" lengthAdjust="spacingAndGlyphs">utterfly</text>
<text class="s" x="672" y="485.5" style="font-size:25px" textLength="12.5" lengthAdjust="spacingAndGlyphs">»</text>
</g>

</svg>
</body>
</html>
